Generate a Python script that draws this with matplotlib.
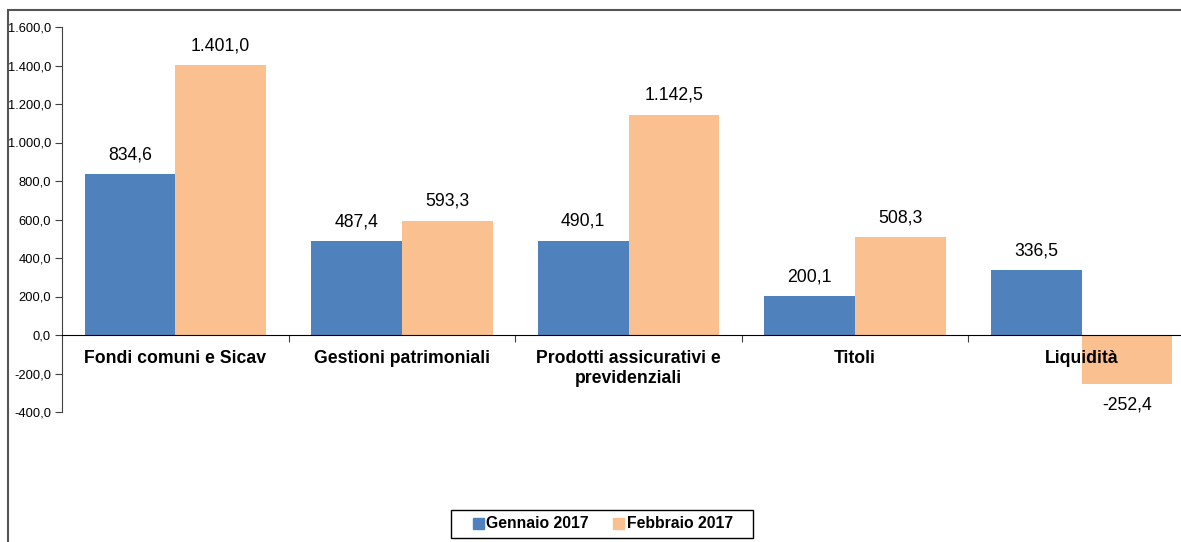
import matplotlib
matplotlib.use("Agg")
import matplotlib.pyplot as plt
import numpy as np
from matplotlib.patches import Patch, Rectangle
from matplotlib.ticker import FuncFormatter

categories = ["Fondi comuni e Sicav", "Gestioni patrimoniali",
              "Prodotti assicurativi e\nprevidenziali", "Titoli", "Liquidità"]
gennaio = [834.6, 487.4, 490.1, 200.1, 336.5]
febbraio = [1401.0, 593.3, 1142.5, 508.3, -252.4]
series_names = ["Gennaio 2017", "Febbraio 2017"]

BLUE = "#4F81BD"
ORANGE = "#FAC090"

plt.rcParams["font.family"] = ["Liberation Sans", "DejaVu Sans"]

W, H = 1181, 542
fig = plt.figure(figsize=(W / 100, H / 100), dpi=100)
ax = fig.add_axes([62 / W, 1 - 412 / H, (1195 - 62) / W, (412 - 27) / H])


def it_num(v, _=None):
    s = f"{v:,.1f}"
    return s.replace(",", "X").replace(".", ",").replace("X", ".")


x = np.arange(len(categories))
w = 0.4
b1 = ax.bar(x - w / 2, gennaio, w, color=BLUE, label=series_names[0])
b2 = ax.bar(x + w / 2, febbraio, w, color=ORANGE, label=series_names[1])

for bars, vals in ((b1, gennaio), (b2, febbraio)):
    for rect, v in zip(bars, vals):
        cx = rect.get_x() + rect.get_width() / 2
        if v >= 0:
            ax.annotate(it_num(v), (cx, v), xytext=(0, 8), textcoords="offset points",
                        ha="center", va="bottom", fontsize=12.7)
        else:
            ax.annotate(it_num(v), (cx, v), xytext=(0, -9), textcoords="offset points",
                        ha="center", va="top", fontsize=12.7)

ax.set_xlim(-0.5, len(categories) - 0.5)
ax.set_ylim(-400, 1600)
ax.set_yticks(np.arange(-400, 1601, 200))
ax.yaxis.set_major_formatter(FuncFormatter(it_num))
ax.tick_params(axis="y", labelsize=9.3, direction="out", length=5, color="#404040", pad=3)

# category boundaries as ticks, labels at group centres
ax.set_xticks(np.arange(0.5, len(categories) - 0.5, 1))
ax.set_xticklabels([])
ax.tick_params(axis="x", which="major", direction="out", length=5, color="#404040")
for xi, name in zip(x, categories):
    ax.annotate(name, (xi, 0), xytext=(0, -10.5), textcoords="offset points",
                ha="center", va="top", fontsize=12.7, fontweight="bold",
                linespacing=1.25, zorder=5)

for s in ("top", "right"):
    ax.spines[s].set_visible(False)
ax.spines["left"].set_color("#404040")
ax.spines["bottom"].set_position(("data", 0))
ax.spines["bottom"].set_color("black")

handles = [Patch(color=BLUE), Patch(color=ORANGE)]
fig.legend(handles, series_names, loc="center", bbox_to_anchor=(603 / W, 1 - 524 / H),
           ncol=2, frameon=False, prop={"weight": "bold", "size": 11.3},
           handlelength=0.7, handleheight=0.7, handletextpad=0.15, columnspacing=1.55)
fig.add_artist(Rectangle((451 / W, 1 - 538 / H), 302 / W, 28 / H, transform=fig.transFigure,
                         fill=False, ec="black", lw=1.0))

fig.add_artist(Rectangle((7.5 / W, -0.1), 2, 1.1 - 9.5 / H, transform=fig.transFigure,
                         fill=False, ec="#555555", lw=1.5))

fig.savefig("out.png", dpi=100)
